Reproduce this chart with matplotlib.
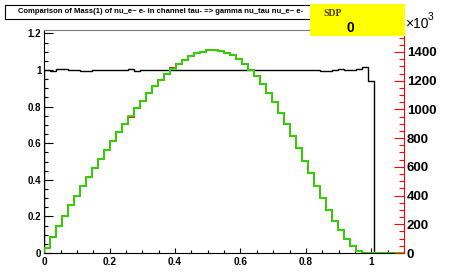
import numpy as np
import matplotlib
matplotlib.use('Agg')
import matplotlib.pyplot as plt
from matplotlib.patches import Rectangle
from matplotlib.ticker import MultipleLocator, FuncFormatter

plt.rcParams['font.family'] = ['Liberation Sans', 'DejaVu Sans']

title = 'Comparison of Mass(1) of nu_e~ e- in channel tau- => gamma nu_tau nu_e~ e-'

# 60 bins between 0 and 1.1
x_lo, x_hi, n_bins = 0.0, 1.1, 60
edges = np.linspace(x_lo, x_hi, n_bins + 1)

# histogram contents (units of 10^3 entries)
green_counts = [32.7, 111.4, 186, 259.8, 332, 397, 464.6, 531.4, 594, 656.8,
                719.5, 780, 840.7, 898.5, 954, 1007.8, 1060.8, 1112.3, 1161, 1205,
                1244.6, 1283.6, 1316.4, 1346.3, 1374.2, 1395, 1402, 1411.8, 1414, 1407,
                1393, 1377, 1353, 1316, 1274.6, 1232.8, 1179, 1116.5, 1049.6, 977,
                898.5, 815, 733.4, 643, 555, 466.7, 381, 297.4, 222.9, 158,
                95.4, 48.8, 16, 3, 0.5, 0, 0, 0, 0, 0]
red_counts = [32.6, 111.8, 185.5, 259, 331.5, 397.8, 466, 532.5, 594, 656.8,
              719, 780, 840.7, 898.5, 950, 1010.5, 1061.5, 1112.3, 1160, 1205,
              1244.6, 1286, 1316.4, 1344, 1373, 1395, 1403, 1410.5, 1414, 1407,
              1393, 1377, 1352, 1316, 1277, 1232.8, 1178, 1114.5, 1049.6, 976,
              897.5, 815, 733.4, 642.5, 555, 466.7, 382.5, 298.6, 222.9, 157.5,
              95.5, 48.8, 15.9, 2.95, 0.53, 0, 0, 0, 0, 0]
# black ratio curve (left axis)
ratio = [1.000, 0.997, 1.003, 1.003, 1.002, 1.002, 0.996, 0.997, 1.000, 1.000,
         1.001, 1.000, 1.000, 1.000, 1.004, 0.997, 0.999, 1.000, 1.001, 1.000,
         1.000, 0.998, 1.000, 1.002, 1.001, 1.000, 0.999, 1.001, 1.000, 1.000,
         1.000, 1.000, 1.001, 1.000, 0.998, 1.000, 1.001, 1.002, 1.000, 1.001,
         1.001, 1.000, 1.000, 1.001, 1.000, 1.000, 0.996, 0.996, 1.000, 1.003,
         0.999, 1.000, 1.003, 1.016, 0.940, 0, 0, 0, 0, 0]

left_ticks = [0, 0.2, 0.4, 0.6, 0.8, 1.0, 1.2]
right_ticks = [0, 200, 400, 600, 800, 1000, 1200, 1400]

W, H = 452, 275
fig = plt.figure(figsize=(W / 100, H / 100), dpi=100)
ax = fig.add_axes([44.2 / W, 1 - 253 / H, (404 - 44.2) / W, (253 - 30) / H])

ax.stairs(ratio, edges, color='black', lw=1.0)
ax.set_xlim(x_lo, x_hi)
ax.set_ylim(0, 1.2186)
ax.set_yticks(left_ticks)
fmt = FuncFormatter(lambda v, p: '%g' % v)
ax.yaxis.set_major_formatter(fmt)
ax.xaxis.set_major_locator(MultipleLocator(0.2))
ax.xaxis.set_major_formatter(fmt)
ax.xaxis.set_minor_locator(MultipleLocator(0.05))
ax.yaxis.set_minor_locator(MultipleLocator(0.05))
ax.tick_params(axis='y', which='major', direction='in', length=6.5, width=0.8, pad=2,
               labelsize=7)
ax.tick_params(axis='y', which='minor', direction='in', length=3.2, width=0.8)
ax.tick_params(axis='x', which='major', direction='in', length=3.6, width=0.8, pad=3,
               labelsize=7.2)
ax.tick_params(axis='x', which='minor', direction='in', length=2, width=0.8)
for lab in ax.get_xticklabels() + ax.get_yticklabels():
    lab.set_fontweight('bold')
ax.spines['top'].set_color('#7a7a7a')
ax.spines['right'].set_visible(False)

ax2 = ax.twinx()
ax2.stairs(red_counts, edges, color='red', lw=1.3)
ax2.stairs(green_counts, edges, color='#11ee00', lw=1.2)
ax2.set_ylim(0, 1553)
ax2.set_yticks(right_ticks)
ax2.yaxis.set_minor_locator(MultipleLocator(50))
ax2.tick_params(axis='y', which='major', direction='in', length=7.2, width=0.8,
                color='red', labelcolor='black', pad=2, labelsize=9.5)
ax2.tick_params(axis='y', which='minor', direction='in', length=3.6, width=0.8,
                color='red')
for lab in ax2.get_yticklabels():
    lab.set_fontweight('bold')
for s in ['top', 'left', 'bottom']:
    ax2.spines[s].set_visible(False)
ax2.spines['right'].set_color('red')

# title box
fig.add_artist(Rectangle((5 / W, 1 - 18.5 / H), 312 / W, 13.8 / H, transform=fig.transFigure,
                         facecolor='white', edgecolor='black', lw=0.8))
fig.text(161 / W, 1 - 11.8 / H, title, ha='center', va='center', fontsize=5.5,
         fontweight='bold')

# yellow stats box
fig.add_artist(Rectangle((310 / W, 1 - 35.7 / H), 95 / W, 31.7 / H, transform=fig.transFigure,
                         facecolor='yellow', edgecolor='none'))
fig.text(323 / W, 1 - 13 / H, 'SDP', ha='left', va='center', fontsize=7,
         fontweight='bold', family='Liberation Serif', color='#4d3a00')
fig.text(350 / W, 1 - 28 / H, '0', ha='center', va='center', fontsize=10,
         fontweight='bold')

# exponent of right axis
fig.text(405 / W, 1 - 28.5 / H, '\u00d710', ha='left', va='baseline', fontsize=10)
fig.text(428 / W, 1 - 20 / H, '3', ha='left', va='baseline', fontsize=7.5)

plt.savefig('out.png', dpi=100)
